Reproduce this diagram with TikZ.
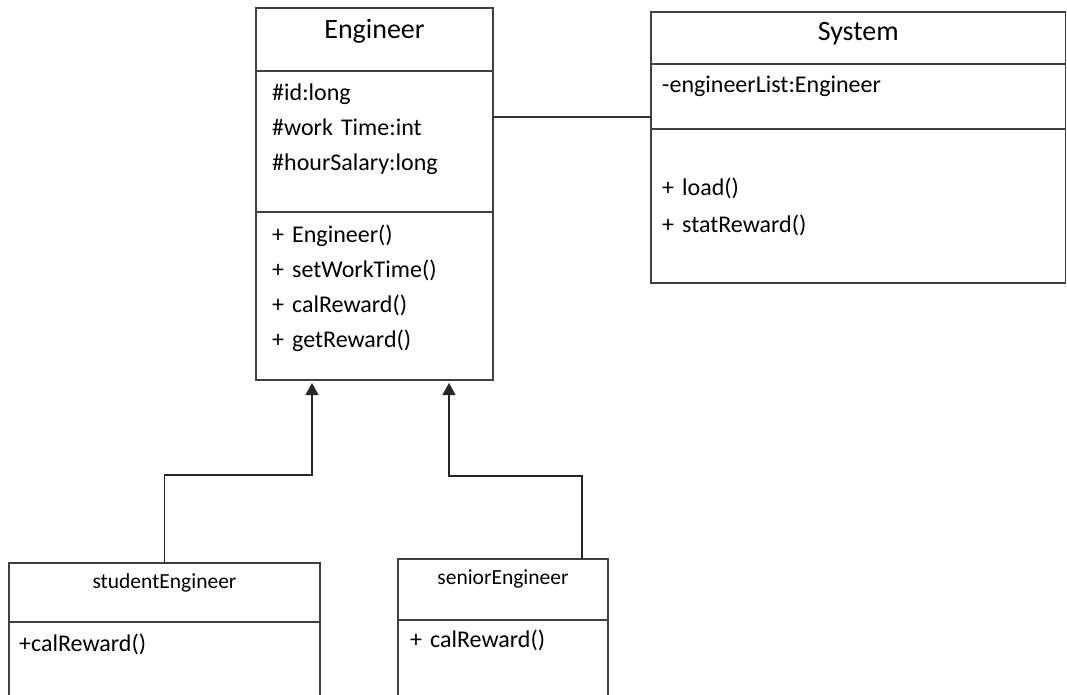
\documentclass[tikz,border=0pt]{standalone}
\usepackage{fontspec}
\setmainfont{Carlito}
\usetikzlibrary{positioning, arrows.meta, calc}

\begin{document}
\begin{tikzpicture}[
    x=1pt, y=-1pt,
    node distance=0pt,
    box/.style={draw=black!75, line width=1.3pt, inner sep=0pt, outer sep=0pt},
    head/.style={box, font=\fontsize{28}{34}\selectfont},
    subhead/.style={box, font=\fontsize{21.5}{26}\selectfont},
    part/.style={box},
    members/.style={inner sep=0pt, anchor=base west, align=left, text width=300pt,
                    font=\fontsize{24}{35}\selectfont},
    assoc/.style={black!80, line width=1.2pt},
    inherit/.style={black!85, line width=1.2pt, -{Triangle[length=12pt, width=13pt]}, shorten >=3pt},
]
\useasboundingbox (0,0) rectangle (1067,695);

% Engineer
\node[head, anchor=north west, minimum width=237pt, minimum height=63pt,
      text height=30.5pt, text depth=32.5pt] (enghead) at (256,8) {Engineer};
\node[part, below=of enghead, minimum width=237pt, minimum height=141pt] (engattr) {};
\node[part, below=of engattr, minimum width=237pt, minimum height=168pt] (engmeth) {};
\node[members] (engattrlist) at ($(engattr.north west)+(16,30)$)
    {\#id:long\\\#work Time:int\\\#hourSalary:long};
\node[members] (engmethlist) at ($(engmeth.north west)+(16,30)$)
    {+ Engineer()\\+ setWorkTime()\\+ calReward()\\+ getReward()};

% System
\node[head, anchor=north west, minimum width=414.5pt, minimum height=52pt,
      text height=29pt, text depth=23pt] (syshead) at (651,12) {System};
\node[part, below=of syshead, minimum width=414.5pt, minimum height=65pt] (sysattr) {};
\node[part, below=of sysattr, minimum width=414.5pt, minimum height=154pt] (sysmeth) {};
\node[members] (sysattrlist) at ($(sysattr.north west)+(11,29)$) {-engineerList:Engineer};
\node[members] (sysmethlist) at ($(sysmeth.north west)+(11,66)$) {+ load()\\[2pt]+ statReward()};

% subclasses
\node[subhead, anchor=north west, minimum width=311pt, minimum height=59pt,
      text height=25pt, text depth=34pt] (student) at (9,563) {studentEngineer};
\node[part, below=of student, minimum width=311pt, minimum height=100pt] (studentmeth) {};
\node[members] (studentmethlist) at ($(studentmeth.north west)+(10,29)$) {+calReward()};

\node[subhead, anchor=north west, minimum width=210pt, minimum height=61pt,
      text height=25pt, text depth=36pt] (senior) at (398,559) {seniorEngineer};
\node[part, below=of senior, minimum width=210pt, minimum height=100pt] (seniormeth) {};
\node[members] (seniormethlist) at ($(seniormeth.north west)+(12,27)$) {+ calReward()};

% connectors
\coordinate (assocA) at ($(engattr.north east)+(0,46)$);
\draw[assoc] (assocA) -- (assocA -| sysattr.west);

\coordinate (inhA) at ($(engmeth.south west)+(56,0)$);
\coordinate (inhB) at ($(engmeth.south west)+(193,0)$);
\draw[inherit] (student.north) -- ++(0,-88) -| (inhA);
\draw[inherit] ($(senior.north east)+(-26,0)$) -- ++(0,-83) -| (inhB);

\end{tikzpicture}
\end{document}
